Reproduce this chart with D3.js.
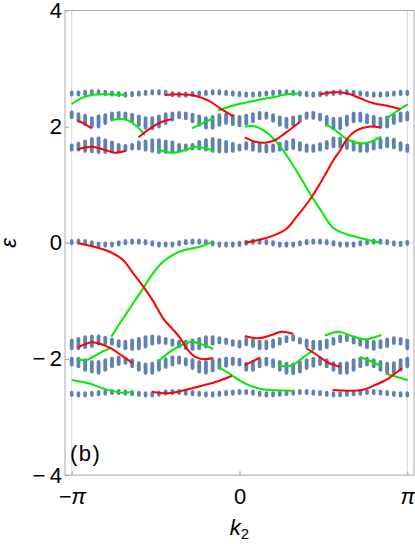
<!DOCTYPE html>
<html>
<head>
<meta charset="utf-8">
<script src="https://cdn.jsdelivr.net/npm/d3@7"></script>
<style>
  body { margin: 0; background: #fff; }
  svg { display: block; font-family: "Liberation Sans", Arial, sans-serif; }
</style>
</head>
<body>
<div id="vis"></div>
<script>
// k sample points of the bulk spectrum, in units of pi
const K_OVER_PI = [-1.00,-0.96,-0.92,-0.88,-0.84,-0.80,-0.76,-0.72,-0.68,-0.64,-0.60,-0.56,-0.52,-0.48,-0.44,-0.40,-0.36,-0.32,-0.28,-0.24,-0.20,-0.16,-0.12,-0.08,-0.04,0.00,
  0.04,0.08,0.12,0.16,0.20,0.24,0.28,0.32,0.36,0.40,0.44,0.48,0.52,0.56,0.60,0.64,0.68,0.72,0.76,0.80,0.84,0.88,0.92,0.96,1.00];

// thin bulk bands (centre of each column)
const bandA = [2.57,2.57,2.58,2.59,2.59,2.58,2.57,2.56,2.55,2.56, 2.57,2.58,2.59,2.59,2.58,2.56,2.55,2.55,2.56,2.57,
  2.58,2.59,2.59,2.58,2.57,2.56,2.55,2.55,2.56,2.57, 2.58,2.59,2.59,2.58,2.57,2.56,2.55,2.56,2.57,2.58, 2.59,2.59,2.58,2.57,2.56,2.55,2.55,2.56,2.57,2.58,2.58];
const bandD = [0.01,0.02,0.01,-0.01,-0.03,-0.03,-0.03,-0.01,0.01,0.02, 0.02,0.01,-0.01,-0.03,-0.03,-0.03,-0.01,0.01,0.02,0.02,
  0.01,-0.01,-0.03,-0.03,-0.03,-0.02,0.00,0.02,0.02,0.01, -0.01,-0.03,-0.03,-0.03,-0.01,0.01,0.02,0.02,0.01,-0.01, -0.03,-0.03,-0.03,-0.01,0.01,0.02,0.02,0.01,-0.01,-0.02,0.00];
const bandG = [-2.60,-2.61,-2.61,-2.60,-2.59,-2.58,-2.57,-2.57,-2.58,-2.59, -2.60,-2.61,-2.61,-2.60,-2.58,-2.57,-2.57,-2.58,-2.59,-2.60,
  -2.61,-2.61,-2.60,-2.59,-2.58,-2.57,-2.57,-2.58,-2.60,-2.61, -2.61,-2.60,-2.59,-2.58,-2.57,-2.57,-2.58,-2.59,-2.60,-2.61, -2.61,-2.60,-2.59,-2.58,-2.57,-2.57,-2.58,-2.59,-2.60,-2.61,-2.61];

// wide bulk bands (top and bottom of each column)
const bandBHi = [2.28,2.25,2.22,2.18,2.21,2.23,2.26,2.27,2.26,2.24, 2.21,2.18,2.18,2.21,2.25,2.26,2.27,2.26,2.24,2.21,
  2.18,2.20,2.23,2.24,2.22,2.20,2.22,2.25,2.27,2.26, 2.23,2.19,2.17,2.19,2.21,2.26,2.27,2.24,2.20,2.17, 2.17,2.21,2.26,2.26,2.23,2.20,2.17,2.19,2.23,2.26,2.27];
const bandBLo = [2.13,2.07,2.01,1.97,1.97,2.03,2.09,2.13,2.10,2.06, 2.00,1.95,1.94,1.97,2.03,2.09,2.13,2.11,2.06,2.00,
  1.95,1.95,2.00,2.03,2.01,1.99,2.02,2.06,2.11,2.12, 2.07,2.00,1.96,2.01,2.07,2.12,2.12,2.09,2.00,1.94, 1.94,2.00,2.06,2.07,2.04,2.00,1.97,1.97,2.03,2.07,2.09];
const bandCHi = [1.71,1.74,1.78,1.82,1.83,1.80,1.76,1.72,1.70,1.72, 1.76,1.78,1.80,1.80,1.78,1.76,1.72,1.71,1.72,1.77,
  1.80,1.82,1.80,1.77,1.74,1.71,1.75,1.77,1.74,1.71, 1.71,1.74,1.77,1.80,1.75,1.71,1.70,1.73,1.77,1.83, 1.83,1.81,1.77,1.73,1.73,1.77,1.81,1.83,1.81,1.75,1.71];
const bandCLo = [1.57,1.57,1.55,1.54,1.53,1.53,1.54,1.55,1.57,1.59, 1.59,1.57,1.55,1.53,1.53,1.54,1.55,1.57,1.59,1.59,
  1.57,1.55,1.54,1.54,1.55,1.57,1.59,1.57,1.55,1.54, 1.55,1.57,1.58,1.60,1.57,1.55,1.55,1.57,1.60,1.63, 1.63,1.60,1.57,1.55,1.55,1.59,1.61,1.63,1.61,1.57,1.55];
const bandEHi = [-1.65,-1.62,-1.59,-1.58,-1.58,-1.60,-1.63,-1.66,-1.67,-1.65, -1.62,-1.59,-1.58,-1.59,-1.62,-1.65,-1.67,-1.67,-1.65,-1.62,
  -1.59,-1.59,-1.61,-1.63,-1.66,-1.67,-1.62,-1.65,-1.67,-1.67, -1.65,-1.62,-1.59,-1.58,-1.62,-1.65,-1.67,-1.67,-1.65,-1.62, -1.58,-1.58,-1.60,-1.63,-1.66,-1.67,-1.66,-1.63,-1.61,-1.62,-1.65];
const bandELo = [-1.85,-1.85,-1.83,-1.81,-1.77,-1.76,-1.77,-1.81,-1.85,-1.86, -1.85,-1.82,-1.77,-1.75,-1.76,-1.79,-1.82,-1.85,-1.86,-1.85,
  -1.82,-1.77,-1.75,-1.76,-1.79,-1.82,-1.78,-1.81,-1.85,-1.85, -1.82,-1.77,-1.73,-1.70,-1.75,-1.81,-1.85,-1.86,-1.83,-1.77, -1.73,-1.71,-1.75,-1.79,-1.83,-1.86,-1.83,-1.81,-1.76,-1.77,-1.85];
const bandFHi = [-1.96,-1.96,-1.99,-2.02,-2.02,-1.99,-1.96,-1.94,-1.96,-1.99, -2.04,-2.06,-2.05,-2.00,-1.97,-1.94,-1.94,-1.97,-1.99,-2.02,
  -2.02,-2.00,-1.98,-1.96,-1.96,-1.98,-2.05,-2.02,-1.98,-1.96, -1.99,-2.02,-2.05,-2.06,-2.02,-1.99,-1.96,-1.96,-1.99,-2.04, -2.05,-2.04,-1.99,-1.96,-1.96,-1.99,-2.02,-2.05,-2.04,-1.99,-1.96];
const bandFLo = [-2.13,-2.16,-2.22,-2.25,-2.27,-2.22,-2.16,-2.12,-2.10,-2.16, -2.22,-2.27,-2.27,-2.22,-2.17,-2.13,-2.10,-2.13,-2.19,-2.25,
  -2.27,-2.23,-2.19,-2.15,-2.12,-2.13,-2.22,-2.22,-2.16,-2.13, -2.16,-2.22,-2.27,-2.28,-2.25,-2.19,-2.15,-2.12,-2.16,-2.22, -2.27,-2.27,-2.22,-2.16,-2.13,-2.16,-2.22,-2.27,-2.27,-2.22,-2.16];

// edge states, pieces of [k, energy]
const redLines = [
  [[-1.40,2.545],[-1.14,2.557],[-0.83,2.533],[-0.58,2.447],[-0.36,2.316],[-0.11,2.171]],
  [[-3.03,2.102],[-2.89,2.045],[-2.77,1.971]],
  [[-1.89,1.816],[-1.67,1.971],[-1.45,2.085],[-1.27,2.126]],
  [[-3.03,1.61],[-2.77,1.655],[-2.52,1.598],[-2.33,1.551],[-2.13,1.586]],
  [[1.51,2.557],[1.76,2.591],[2.01,2.574],[2.26,2.488],[2.51,2.402],[2.76,2.361],[3.01,2.304]],
  [[0.10,0.002],[0.48,0.077],[0.85,0.22],[1.07,0.449],[1.355,0.794],[1.60,1.167],[1.76,1.426],[1.89,1.598],[2.01,1.787],[2.20,1.942],[2.42,2.0],[2.65,1.982]],
  [[0.10,1.816],[0.29,1.741],[0.48,1.724],[0.67,1.77],[0.85,1.885],[1.135,2.085]],
  [[-3.02,-0.009],[-2.62,-0.095],[-2.37,-0.181],[-2.18,-0.296],[-1.99,-0.525],[-1.80,-0.756],[-1.62,-1.0],[-1.43,-1.30],[-1.24,-1.50],[-1.12,-1.63],[-0.99,-1.816],[-0.835,-1.961],[-0.71,-2.001],[-0.49,-1.989]],
  [[-3.03,-1.806],[-2.77,-1.713],[-2.58,-1.748],[-2.39,-1.828],[-2.20,-1.944],[-2.00,-2.075]],
  [[-1.64,-2.564],[-1.33,-2.591],[-1.02,-2.534],[-0.70,-2.46],[-0.39,-2.38],[-0.14,-2.29]],
  [[0.10,-1.605],[0.35,-1.644],[0.60,-1.588],[0.79,-1.531],[1.01,-1.57]],
  [[0.10,-2.107],[0.385,-1.975]],
  [[1.25,-1.816],[1.45,-1.932],[1.67,-2.07],[1.89,-2.133]],
  [[1.745,-2.534],[2.04,-2.546],[2.29,-2.534],[2.54,-2.448],[2.79,-2.333],[3.04,-2.161]]
];
const greenLines = [
  [[-3.14,2.39],[-2.96,2.49],[-2.77,2.545],[-2.52,2.557],[-2.30,2.55],[-2.13,2.545]],
  [[-0.89,1.971],[-0.70,2.057],[-0.48,2.144]],
  [[-0.40,2.278],[-0.27,2.321],[-0.08,2.373],[0.29,2.447],[0.67,2.515],[0.92,2.562],[1.135,2.57]],
  [[-2.39,2.114],[-2.14,2.126],[-1.955,2.028],[-1.77,1.856]],
  [[-1.53,1.61],[-1.27,1.551],[-1.02,1.598],[-0.83,1.655],[-0.64,1.627],[-0.48,1.586]],
  [[2.76,2.144],[2.95,2.269],[3.15,2.385]],
  [[0.10,1.999],[0.23,2.011],[0.385,1.971],[0.60,1.827],[0.79,1.627],[0.98,1.369],[1.17,1.081],[1.355,0.794],[1.54,0.535],[1.73,0.277],[1.92,0.174],[2.105,0.122],[2.355,0.06],[2.64,0.002]],
  [[1.62,2.04],[1.81,1.925],[2.01,1.787],[2.26,1.713],[2.45,1.736],[2.65,1.827]],
  [[-3.02,-2.006],[-2.87,-2.02],[-2.62,-1.90],[-2.40,-1.80]],
  [[-2.40,-1.617],[-2.24,-1.386],[-1.99,-1.042],[-1.805,-0.783],[-1.62,-0.525],[-1.43,-0.325],[-1.12,-0.153],[-0.74,-0.067],[-0.49,0.019]],
  [[-1.52,-2.047],[-1.30,-1.875],[-1.08,-1.76],[-0.90,-1.703],[-0.71,-1.748],[-0.49,-1.828]],
  [[-0.40,-2.133],[-0.15,-2.276],[0.10,-2.419],[0.42,-2.522],[0.67,-2.54],[1.01,-2.546]],
  [[-3.14,-2.362],[-2.83,-2.419],[-2.52,-2.517],[-2.20,-2.581],[-2.00,-2.564]],
  [[0.73,-2.118],[0.98,-2.113],[1.17,-1.989],[1.385,-1.846]],
  [[1.60,-1.601],[1.85,-1.531],[2.105,-1.605],[2.355,-1.661],[2.655,-1.588]],
  [[2.26,-1.966],[2.45,-2.035],[2.655,-2.126]],
  [[2.76,-2.259],[2.98,-2.319],[3.15,-2.367]]
];

// ticks
const yTicks = [-4, -2, 0, 2, 4];
const yTickLabels = ["\u2212\u20094", "\u2212\u20092", "0", "2", "4"];
const xTicks = [-Math.PI, 0, Math.PI];
const xTickLabels = ["\u2212\u03c0", "0", "\u03c0"];

// frame
const FRAME_WIDTH = 415;
const FRAME_HEIGHT = 544;
const MARGINS = { left: 65, right: 1, top: 10.5, bottom: 68.9 };
const BLUE = "#5e81b5";

const svg = d3.select("#vis")
  .append("svg")
  .attr("width", FRAME_WIDTH)
  .attr("height", FRAME_HEIGHT);

const xScale = d3.scaleLinear()
  .domain([-Math.PI * 1.04, Math.PI * 1.04])
  .range([MARGINS.left, FRAME_WIDTH - MARGINS.right]);
const yScale = d3.scaleLinear()
  .domain([-4, 4])
  .range([FRAME_HEIGHT - MARGINS.bottom, MARGINS.top]);

// grid lines at +-pi and 0
svg.selectAll(".vgrid")
  .data([-Math.PI, Math.PI])
  .enter()
  .append("line")
  .attr("x1", d => xScale(d)).attr("x2", d => xScale(d))
  .attr("y1", yScale(4)).attr("y2", yScale(-4))
  .attr("stroke", "#d6d6d6").attr("stroke-width", 1);
svg.append("line")
  .attr("x1", xScale.range()[0]).attr("x2", xScale.range()[1])
  .attr("y1", yScale(0)).attr("y2", yScale(0))
  .attr("stroke", "#d6d6d6").attr("stroke-width", 1);

// bulk bands
const wideBands = [[bandBHi, bandBLo], [bandCHi, bandCLo], [bandEHi, bandELo], [bandFHi, bandFLo]];
const thinBands = [bandA, bandD, bandG];
const CAP = 1.9;

wideBands.forEach(([hi, lo]) => {
  svg.append("g")
    .selectAll("line")
    .data(K_OVER_PI)
    .enter()
    .append("line")
    .attr("x1", d => xScale(d * Math.PI))
    .attr("x2", d => xScale(d * Math.PI))
    .attr("y1", (d, i) => Math.min(yScale(hi[i]) + CAP, (yScale(hi[i]) + yScale(lo[i])) / 2))
    .attr("y2", (d, i) => Math.max(yScale(lo[i]) - CAP, (yScale(hi[i]) + yScale(lo[i])) / 2))
    .attr("stroke", BLUE)
    .attr("stroke-width", 3.8)
    .attr("stroke-linecap", "round");
});

thinBands.forEach(band => {
  svg.append("g")
    .selectAll("line")
    .data(K_OVER_PI)
    .enter()
    .append("line")
    .attr("x1", d => xScale(d * Math.PI))
    .attr("x2", d => xScale(d * Math.PI))
    .attr("y1", (d, i) => yScale(band[i]) - 1.3)
    .attr("y2", (d, i) => yScale(band[i]) + 1.3)
    .attr("stroke", BLUE)
    .attr("stroke-width", 3.6)
    .attr("stroke-linecap", "round");
});

// edge states
const line = d3.line()
  .x(d => xScale(d[0]))
  .y(d => yScale(d[1]))
  .curve(d3.curveCatmullRom.alpha(0.5));

svg.append("g")
  .selectAll("path")
  .data(greenLines)
  .enter()
  .append("path")
  .attr("d", line)
  .attr("fill", "none")
  .attr("stroke", "#00ec00")
  .attr("stroke-width", 2);

svg.append("g")
  .selectAll("path")
  .data(redLines)
  .enter()
  .append("path")
  .attr("d", line)
  .attr("fill", "none")
  .attr("stroke", "#ff0000")
  .attr("stroke-width", 2);

// frame box
svg.append("rect")
  .attr("x", MARGINS.left)
  .attr("y", MARGINS.top)
  .attr("width", FRAME_WIDTH - MARGINS.left - MARGINS.right)
  .attr("height", FRAME_HEIGHT - MARGINS.top - MARGINS.bottom)
  .attr("fill", "none")
  .attr("stroke", "#a9a9a9")
  .attr("stroke-width", 1);

// axes
const yAxis = svg.append("g")
  .attr("transform", "translate(" + MARGINS.left + ",0)")
  .call(d3.axisLeft(yScale)
    .tickValues(yTicks)
    .tickFormat((d, i) => yTickLabels[i])
    .tickSize(-4)
    .tickPadding(3));

const xAxis = svg.append("g")
  .attr("transform", "translate(0," + (FRAME_HEIGHT - MARGINS.bottom) + ")")
  .call(d3.axisBottom(xScale)
    .tickValues(xTicks)
    .tickFormat((d, i) => xTickLabels[i])
    .tickSize(-4)
    .tickPadding(13));

[yAxis, xAxis].forEach(ax => {
  ax.select(".domain").remove();
  ax.selectAll(".tick line").attr("stroke", "#a9a9a9");
  ax.selectAll(".tick text")
    .attr("fill", "#000")
    .attr("font-size", "22px")
    .attr("font-family", "Liberation Sans, Arial, sans-serif");
});
xAxis.selectAll(".tick text").attr("font-style", (d, i) => i === 1 ? "normal" : "italic");

// axis labels
svg.append("text")
  .attr("transform", "translate(16," + yScale(0) + ") rotate(-90)")
  .attr("text-anchor", "middle")
  .attr("font-size", "22px")
  .attr("font-style", "italic")
  .text("\u03b5");

const kLabel = svg.append("text")
  .attr("x", xScale(0))
  .attr("y", 535)
  .attr("text-anchor", "middle")
  .attr("font-size", "22px");
kLabel.append("tspan").attr("font-style", "italic").text("k");
kLabel.append("tspan").attr("font-size", "15px").attr("dy", 4).text("2");

svg.append("text")
  .attr("x", 70)
  .attr("y", 461)
  .attr("font-size", "22px")
  .attr("letter-spacing", "1.5px")
  .text("(b)");
</script>
</body>
</html>
